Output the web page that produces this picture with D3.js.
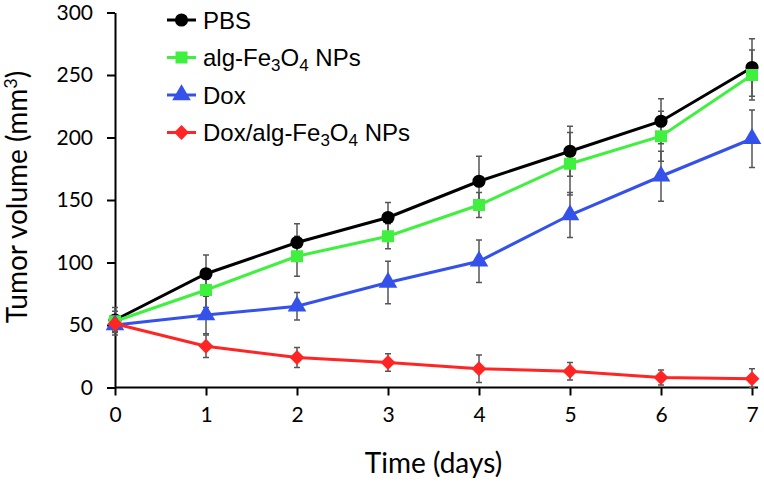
<!DOCTYPE html>
<html>
<head>
<meta charset="utf-8">
<script src="https://cdn.jsdelivr.net/npm/d3@7"></script>
<style>
	body { margin: 0; background: #fff; }
	.tick text { font-family: Lato, "Open Sans", sans-serif; font-size: 21px; fill: #000; }
	.axis-title { font-family: Lato, "Open Sans", sans-serif; font-size: 28px; fill: #000; }
	.legend text { font-family: "Liberation Sans", Arial, sans-serif; font-size: 24px; fill: #000; }
</style>
</head>
<body>
<div class="chart"></div>
<script>
const days = [0, 1, 2, 3, 4, 5, 6, 7];
const yTicks = [0, 50, 100, 150, 200, 250, 300];

const pbs = [54, 91, 116, 136, 165, 189, 213, 256];
const pbsErr = [10, 15, 15, 12, 20, 20, 18, 23];
const alg = [53, 78, 105, 121, 146, 179, 201, 250];
const algErr = [8, 14, 16, 10, 10, 25, 20, 20];
const dox = [50, 58, 65, 84, 101, 138, 169, 199];
const doxErr = [8, 15, 11, 17, 17, 18, 20, 23];
const doxAlg = [51, 33, 24, 20, 15, 13, 8, 7];
const doxAlgErr = [6, 9, 8, 7, 11, 7, 6, 8];

const series = [
	{ name: ['PBS'], values: pbs, err: pbsErr, color: '#000000', symbol: d3.symbolCircle, size: 135, rot: 0 },
	{ name: ['alg-Fe', '3', 'O', '4', ' NPs'], values: alg, err: algErr, color: '#3ff03f', symbol: d3.symbolSquare, size: 144, rot: 0 },
	{ name: ['Dox'], values: dox, err: doxErr, color: '#3452ea', symbol: d3.symbolTriangle, size: 150, rot: 0 },
	{ name: ['Dox/alg-Fe', '3', 'O', '4', ' NPs'], values: doxAlg, err: doxAlgErr, color: '#ff2525', symbol: d3.symbolSquare, size: 110, rot: 45 }
];

const width = 764;
const height = 484;

const x = d3.scaleLinear().domain([0, 7]).range([115, 752]);
const y = d3.scaleLinear().domain([0, 300]).range([387.5, 12.5]);

const svg = d3.select('.chart').append('svg')
	.attr('width', width)
	.attr('height', height);

// axes
const xAxis = svg.append('g')
	.attr('transform', `translate(0,${y(0)})`)
	.call(d3.axisBottom(x).tickValues(days).tickFormat(d3.format('d')).tickSize(8).tickSizeOuter(0).tickPadding(12));

const yAxis = svg.append('g')
	.attr('transform', `translate(${x(0)},0)`)
	.call(d3.axisLeft(y).tickValues(yTicks).tickSize(8).tickSizeOuter(0).tickPadding(14));

[xAxis, yAxis].forEach(function(g) {
	g.select('.domain').attr('stroke', '#000').attr('stroke-width', 2);
	g.selectAll('.tick line').attr('stroke', '#000').attr('stroke-width', 2);
});
xAxis.select('.domain').attr('d', `M${x(0)},0H${x(7) + 6}`);

// error bars
series.forEach(function(s) {
	const g = svg.append('g').attr('stroke', '#555').attr('stroke-width', 1.5);
	days.forEach(function(d, i) {
		const hi = y(s.values[i] + s.err[i]);
		const lo = y(Math.max(0, s.values[i] - s.err[i]));
		g.append('line').attr('x1', x(d)).attr('x2', x(d)).attr('y1', hi).attr('y2', lo);
		g.append('line').attr('x1', x(d) - 3).attr('x2', x(d) + 3).attr('y1', hi).attr('y2', hi);
		g.append('line').attr('x1', x(d) - 3).attr('x2', x(d) + 3).attr('y1', lo).attr('y2', lo);
	});
});

// lines and markers
const line = d3.line()
	.x(function(d, i) { return x(days[i]); })
	.y(function(d) { return y(d); });

series.forEach(function(s) {
	svg.append('path')
		.datum(s.values)
		.attr('fill', 'none')
		.attr('stroke', s.color)
		.attr('stroke-width', 3)
		.attr('d', line);

	svg.selectAll(null)
		.data(s.values)
		.enter()
		.append('path')
		.attr('d', d3.symbol().type(s.symbol).size(s.size))
		.attr('transform', function(d, i) {
			return `translate(${x(days[i])},${y(d)}) rotate(${s.rot})`;
		})
		.attr('fill', s.color);
});

// axis titles
svg.append('text')
	.attr('class', 'axis-title')
	.attr('x', (x(0) + x(7)) / 2)
	.attr('y', 473)
	.attr('text-anchor', 'middle')
	.text('Time (days)');

const yTitle = svg.append('text')
	.attr('class', 'axis-title')
	.attr('transform', `translate(27,${(y(0) + y(300)) / 2 - 3}) rotate(-90)`)
	.attr('text-anchor', 'middle');
yTitle.append('tspan').text('Tumor volume (mm');
yTitle.append('tspan').attr('dy', -10).attr('font-size', '18px').text('3');
yTitle.append('tspan').attr('dy', 10).text(')');

// legend
const legend = svg.append('g').attr('class', 'legend');
series.forEach(function(s, i) {
	const ly = 20 + i * 37.5;
	legend.append('line')
		.attr('x1', 167).attr('x2', 196)
		.attr('y1', ly).attr('y2', ly)
		.attr('stroke', s.color).attr('stroke-width', 3);
	legend.append('path')
		.attr('d', d3.symbol().type(s.symbol).size(s.size))
		.attr('transform', `translate(181.5,${ly}) rotate(${s.rot})`)
		.attr('fill', s.color);
	const t = legend.append('text')
		.attr('x', 203)
		.attr('y', ly + 8.5);
	s.name.forEach(function(part, j) {
		const sp = t.append('tspan').text(part);
		if (j === 1 || j === 3) {
			sp.attr('dy', 5).attr('font-size', '17px');
		} else if (j > 0) {
			sp.attr('dy', -5);
		}
	});
});
</script>
</body>
</html>
